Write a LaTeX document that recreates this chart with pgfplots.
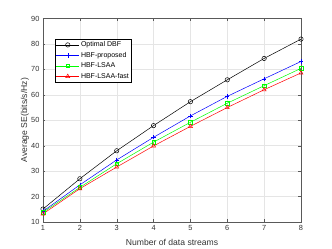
\documentclass[border=0pt]{standalone}
\usepackage{pgfplots}
\pgfplotsset{compat=1.18}
\usepackage{fontspec}
\setmainfont{Liberation Sans}
\begin{document}
\begin{tikzpicture}[x=1pt,y=1pt]
\path[use as bounding box] (0,0) rectangle (332,249);
\begin{axis}[
  at={(43pt,27pt)}, anchor=south west,
  scale only axis, width=258pt, height=203.5pt,
  xmin=1, xmax=8, ymin=10, ymax=90,
  xtick={1,...,8}, ytick={10,20,...,90},
  grid=major, grid style={gray!20, line width=0.4pt},
  axis line style={gray!70!black, line width=0.4pt},
  tick style={gray!70!black},
  tick align=inside,
  major tick length=2.5pt,
  /pgf/number format/assume math mode=true,
  tick label style={font=\fontsize{7.4}{8}\selectfont, text=black!80},
  label style={font=\fontsize{8.6}{10}\selectfont, text=black!80},
  xlabel={Number of data streams},
  ylabel={Average SE(bits/s/Hz)},
  xlabel style={at={(axis description cs:0.5,0)}, anchor=center, yshift=-20pt},
  ylabel style={at={(axis description cs:0,0.5)}, anchor=center, rotate=0, yshift=18pt},
  legend style={at={(55pt-43pt,249pt-39pt-27pt)}, anchor=north west, font=\fontsize{7}{8}\selectfont,
    draw=black, line width=0.4pt, inner sep=0.8pt, row sep=0.7pt,
    nodes={inner sep=1.5pt, text height=5.2pt, text depth=1.6pt},
    cells={anchor=west}},
  legend cell align=left,
  legend image code/.code={\draw[mark repeat=2,mark phase=2] plot coordinates {(0pt,0pt)(11.5pt,0pt)(23pt,0pt)};},
  every axis plot/.append style={line width=0.5pt},
]
\addplot[black, mark=o, mark size=2.2pt] coordinates {(1,15.1)(2,27.0)(3,38.0)(4,47.9)(5,57.3)(6,65.9)(7,74.3)(8,81.9)};
\addlegendentry{Optimal DBF}
\addplot[blue, mark=+, mark size=2.2pt] coordinates {(1,14.2)(2,24.6)(3,34.4)(4,43.3)(5,51.7)(6,59.4)(7,66.3)(8,73.1)};
\addlegendentry{HBF-proposed}
\addplot[green, mark=square, mark size=1.8pt] coordinates {(1,13.8)(2,23.6)(3,32.9)(4,41.4)(5,49.2)(6,56.7)(7,63.6)(8,70.4)};
\addlegendentry{HBF-LSAA}
\addplot[red, mark=triangle, mark size=2.3pt] coordinates {(1,13.2)(2,23.1)(3,31.6)(4,39.9)(5,47.6)(6,55.0)(7,62.0)(8,68.6)};
\addlegendentry{HBF-LSAA-fast}
\end{axis}
\end{tikzpicture}
\end{document}
